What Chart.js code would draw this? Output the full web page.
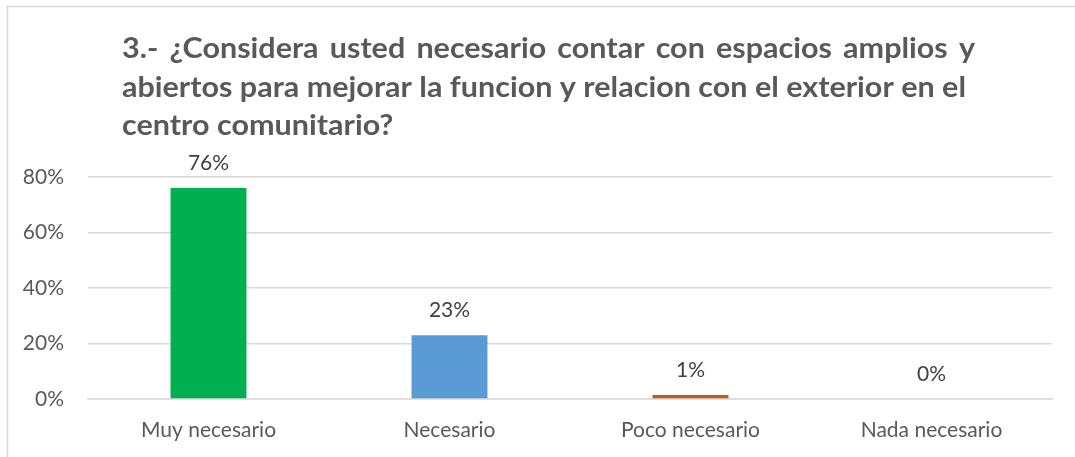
<!DOCTYPE html>
<html>
<head>
<meta charset="utf-8">
<script src="https://cdn.jsdelivr.net/npm/chart.js@4.4.1/dist/chart.umd.min.js"></script>
<style>
  html, body { margin: 0; padding: 0; background: #fff; }
  #contenedor { width: 1075px; height: 457px; position: relative; }
</style>
</head>
<body>
<div id="contenedor"><canvas id="grafico"></canvas></div>
<script>
// Datos del grafico
const tituloLineas = [
  '3.- ¿Considera usted necesario contar con espacios amplios y',
  'abiertos para mejorar la funcion y relacion con el exterior en el',
  'centro comunitario?'
];
const categorias = ['Muy necesario', 'Necesario', 'Poco necesario', 'Nada necesario'];
const valores = [76, 23, 1.4, 0];
const etiquetasValor = ['76%', '23%', '1%', '0%'];
const marcasEje = [0, 20, 40, 60, 80];
const coloresBarras = ['#00B050', '#5B9BD5', '#C55A11', '#A5A5A5'];

const FUENTE = 'Lato, "Open Sans", sans-serif';

// Titulo justificado dibujado a mano (Chart.js no justifica el texto)
const tituloJustificado = {
  id: 'tituloJustificado',
  afterDraw(chart) {
    const ctx = chart.ctx;
    const x0 = 122, x1 = 975, finLinea2 = 966;
    const base = [58, 97, 135];
    ctx.save();
    ctx.font = `bold 28px ${FUENTE}`;
    // ajustar el ancho para que la segunda linea termine donde en el original
    const ancho2 = ctx.measureText(tituloLineas[1]).width;
    const esc = (finLinea2 - x0) / ancho2;
    ctx.translate(x0, 0);
    ctx.scale(esc, 1);
    const ancho = (x1 - x0) / esc;
    ctx.fillStyle = '#595959';
    ctx.textAlign = 'left';
    ctx.textBaseline = 'alphabetic';
    tituloLineas.forEach((linea, i) => {
      if (i > 0) {
        ctx.fillText(linea, 0, base[i]);
        return;
      }
      const palabras = linea.split(' ');
      const anchoPalabras = palabras.reduce((a, p) => a + ctx.measureText(p).width, 0);
      const hueco = (ancho - anchoPalabras) / (palabras.length - 1);
      let x = 0;
      palabras.forEach(p => {
        ctx.fillText(p, x, base[i]);
        x += ctx.measureText(p).width + hueco;
      });
    });
    ctx.restore();
  }
};

// Etiquetas de valor encima de cada barra
const etiquetasBarras = {
  id: 'etiquetasBarras',
  afterDatasetsDraw(chart) {
    const ctx = chart.ctx;
    const meta = chart.getDatasetMeta(0);
    ctx.save();
    ctx.font = `21px ${FUENTE}`;
    ctx.fillStyle = '#404040';
    ctx.textAlign = 'center';
    ctx.textBaseline = 'middle';
    meta.data.forEach((barra, i) => {
      ctx.fillText(etiquetasValor[i], barra.x, barra.y - 25);
    });
    ctx.restore();
  }
};

// Marco gris del area del grafico
const marco = {
  id: 'marco',
  beforeDraw(chart) {
    const ctx = chart.ctx;
    ctx.save();
    ctx.strokeStyle = '#D9D9D9';
    ctx.lineWidth = 1.5;
    ctx.strokeRect(7.5, 6.5, chart.width + 20, chart.height + 20);
    ctx.restore();
  }
};

new Chart(document.getElementById('grafico'), {
  type: 'bar',
  data: {
    labels: categorias,
    datasets: [{
      data: valores,
      backgroundColor: coloresBarras,
      borderWidth: 0,
      barPercentage: 0.315,
      categoryPercentage: 1
    }]
  },
  options: {
    responsive: true,
    maintainAspectRatio: false,
    animation: false,
    layout: { padding: { top: 177, right: 23, bottom: 0, left: 0 } },
    plugins: {
      legend: { display: false },
      title: { display: false },
      tooltip: { enabled: false }
    },
    scales: {
      x: {
        grid: { display: false, drawTicks: false },
        border: { display: true, color: '#D9D9D9', width: 1.5 },
        ticks: { color: '#595959', font: { family: FUENTE, size: 21 }, padding: 19 },
        afterFit(scale) { scale.height = 58; }
      },
      y: {
        min: 0,
        max: 80,
        afterBuildTicks(scale) { scale.ticks = marcasEje.map(v => ({ value: v })); },
        grid: { color: '#D9D9D9', lineWidth: 1.5, drawTicks: false },
        border: { display: false },
        ticks: {
          color: '#595959',
          font: { family: FUENTE, size: 21 },
          padding: 24,
          callback: v => v + '%'
        },
        afterFit(scale) { scale.width = 88; }
      }
    }
  },
  plugins: [marco, tituloJustificado, etiquetasBarras]
});
</script>
</body>
</html>
